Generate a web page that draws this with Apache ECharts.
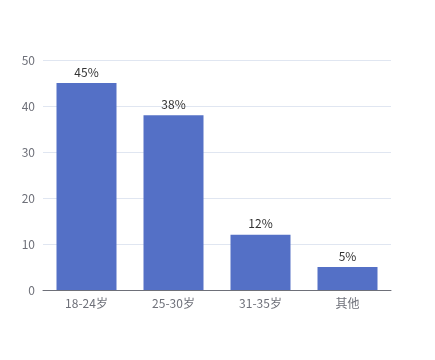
<!DOCTYPE html>
<html><head><meta charset="utf-8">
<script src="https://cdn.jsdelivr.net/npm/echarts@6/dist/echarts.min.js"></script>
<style>html,body{margin:0;padding:0;background:#fff}#c{width:435px;height:360px}</style>
</head><body><div id="c"></div>
<script>
const categories = ['18-24岁', '25-30岁', '31-35岁', '其他'];
const values = [45, 38, 12, 5];
const chart = echarts.init(document.getElementById('c'));
chart.setOption({
  textStyle: { fontFamily: '"Noto Sans CJK SC", sans-serif' },
  grid: { left: 43, right: 44, top: 60, bottom: 70 },
  xAxis: {
    type: 'category', data: categories,
    axisLine: { lineStyle: { color: '#6e7079' } },
    axisTick: { lineStyle: { color: '#6e7079' } },
    axisLabel: { color: '#6e7079', fontSize: 12, margin: 7 }
  },
  yAxis: {
    type: 'value', min: 0, max: 50, interval: 10,
    axisLabel: { color: '#6e7079', fontSize: 12 },
    splitLine: { lineStyle: { color: '#e0e6f1' } }
  },
  series: [{
    type: 'bar', data: values, barWidth: 60,
    itemStyle: { color: '#5470c6' },
    label: { show: true, position: 'top', formatter: '{c}%', color: '#333', fontSize: 12 }
  }]
});
</script></body></html>
